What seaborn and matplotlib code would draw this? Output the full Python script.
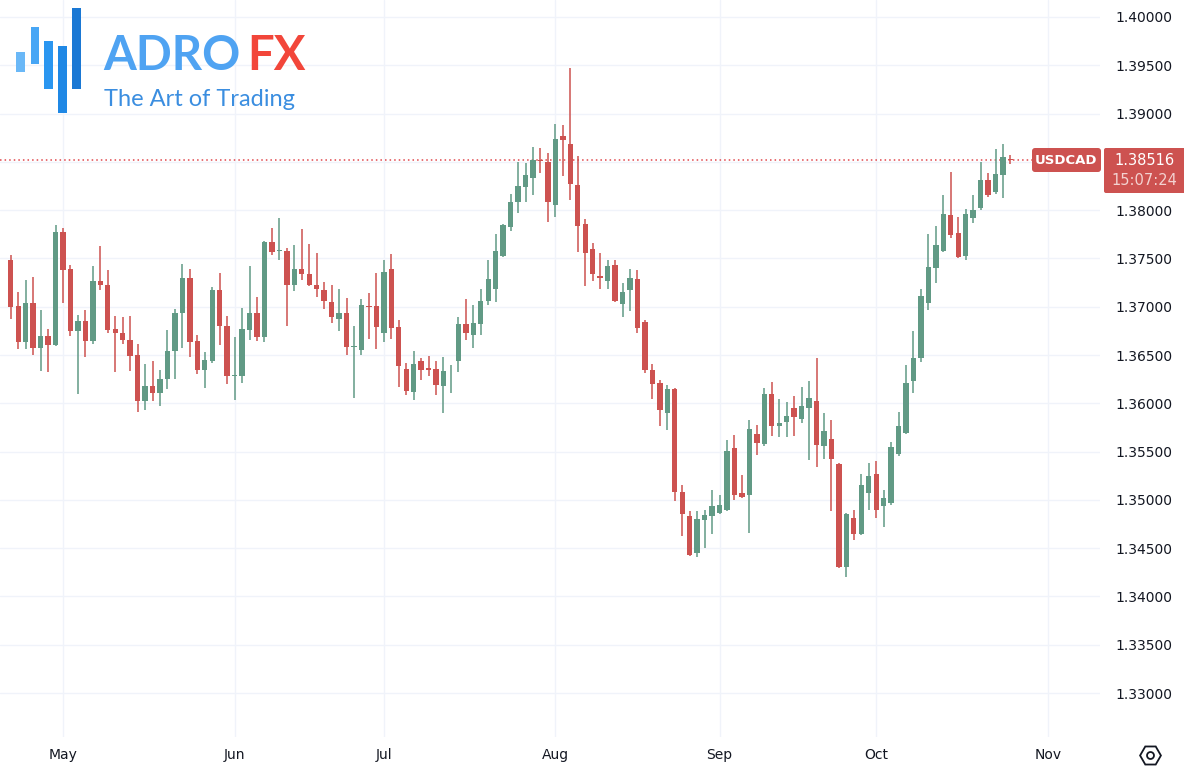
import numpy as np
import pandas as pd
import matplotlib
matplotlib.use("Agg")
import matplotlib.pyplot as plt
import seaborn as sns
from matplotlib.patches import FancyBboxPatch, Rectangle

# ---------------- data (USDCAD daily) ----------------
dates = pd.bdate_range("2024-04-22", "2024-10-25")

opens = [1.3748, 1.3701, 1.3663, 1.3704, 1.3657, 1.3670, 1.3660, 1.3777, 1.3739, 1.3675,
         1.3685, 1.3665, 1.3727, 1.3723, 1.3677, 1.3673, 1.3666, 1.3650, 1.3602, 1.3618,
         1.3611, 1.3625, 1.3654, 1.3694, 1.3730, 1.3665, 1.3634, 1.3644, 1.3717, 1.3680,
         1.3628, 1.3628, 1.3676, 1.3694, 1.3669, 1.3767, 1.3758, 1.3758, 1.3723, 1.3739,
         1.3734, 1.3723, 1.3717, 1.3705, 1.3687, 1.3693, 1.3658, 1.3655, 1.3701, 1.3701,
         1.3673, 1.3739, 1.3679, 1.3636, 1.3612, 1.3644, 1.3637, 1.3636, 1.3618, 1.3634,
         1.3644, 1.3682, 1.3671, 1.3682, 1.3706, 1.3718, 1.3753, 1.3783, 1.3808, 1.3824,
         1.3833, 1.3852, 1.3850, 1.3805, 1.3877, 1.3868, 1.3826, 1.3786, 1.3760, 1.3732,
         1.3727, 1.3743, 1.3703, 1.3717, 1.3729, 1.3684, 1.3634, 1.3621, 1.3590, 1.3615,
         1.3508, 1.3483, 1.3445, 1.3479, 1.3483, 1.3486, 1.3490, 1.3554, 1.3507, 1.3505,
         1.3568, 1.3558, 1.3610, 1.3576, 1.3581, 1.3595, 1.3584, 1.3595, 1.3602, 1.3556,
         1.3563, 1.3537, 1.3431, 1.3481, 1.3465, 1.3507, 1.3527, 1.3494, 1.3497, 1.3548,
         1.3569, 1.3623, 1.3647, 1.3704, 1.3740, 1.3758, 1.3795, 1.3776, 1.3753, 1.3792,
         1.3802, 1.3831, 1.3819, 1.3836, 1.3853]
highs = [1.3754, 1.3715, 1.3728, 1.3731, 1.3697, 1.3677, 1.3785, 1.3782, 1.3743, 1.3691,
         1.3697, 1.3742, 1.3763, 1.3738, 1.3690, 1.3689, 1.3690, 1.3661, 1.3641, 1.3644,
         1.3635, 1.3676, 1.3698, 1.3744, 1.3739, 1.3671, 1.3653, 1.3720, 1.3735, 1.3690,
         1.3669, 1.3699, 1.3742, 1.3710, 1.3768, 1.3782, 1.3792, 1.3761, 1.3764, 1.3780,
         1.3765, 1.3756, 1.3726, 1.3722, 1.3718, 1.3709, 1.3680, 1.3708, 1.3714, 1.3735,
         1.3748, 1.3755, 1.3686, 1.3642, 1.3654, 1.3647, 1.3649, 1.3644, 1.3648, 1.3640,
         1.3689, 1.3708, 1.3702, 1.3718, 1.3748, 1.3775, 1.3786, 1.3817, 1.3850, 1.3849,
         1.3865, 1.3864, 1.3859, 1.3889, 1.3888, 1.3947, 1.3856, 1.3791, 1.3766, 1.3756,
         1.3748, 1.3748, 1.3725, 1.3739, 1.3738, 1.3686, 1.3641, 1.3624, 1.3619, 1.3616,
         1.3515, 1.3489, 1.3489, 1.3490, 1.3510, 1.3505, 1.3562, 1.3567, 1.3526, 1.3583,
         1.3578, 1.3616, 1.3622, 1.3604, 1.3601, 1.3608, 1.3617, 1.3623, 1.3647, 1.3590,
         1.3583, 1.3538, 1.3486, 1.3490, 1.3527, 1.3538, 1.3540, 1.3510, 1.3560, 1.3591,
         1.3640, 1.3675, 1.3718, 1.3775, 1.3784, 1.3816, 1.3839, 1.3793, 1.3801, 1.3816,
         1.3850, 1.3838, 1.3863, 1.3869, 1.3857]
lows = [1.3687, 1.3656, 1.3656, 1.3650, 1.3633, 1.3632, 1.3659, 1.3704, 1.3670, 1.3610,
        1.3648, 1.3661, 1.3717, 1.3673, 1.3632, 1.3661, 1.3633, 1.3591, 1.3593, 1.3602,
        1.3597, 1.3615, 1.3625, 1.3657, 1.3648, 1.3630, 1.3616, 1.3642, 1.3660, 1.3620,
        1.3603, 1.3621, 1.3666, 1.3665, 1.3663, 1.3754, 1.3748, 1.3680, 1.3716, 1.3728,
        1.3721, 1.3710, 1.3698, 1.3683, 1.3675, 1.3650, 1.3605, 1.3650, 1.3667, 1.3656,
        1.3663, 1.3667, 1.3617, 1.3609, 1.3603, 1.3624, 1.3628, 1.3609, 1.3590, 1.3611,
        1.3632, 1.3666, 1.3657, 1.3671, 1.3702, 1.3705, 1.3752, 1.3778, 1.3797, 1.3808,
        1.3816, 1.3838, 1.3788, 1.3793, 1.3835, 1.3810, 1.3757, 1.3721, 1.3727, 1.3718,
        1.3718, 1.3705, 1.3689, 1.3696, 1.3673, 1.3631, 1.3604, 1.3576, 1.3572, 1.3499,
        1.3463, 1.3442, 1.3441, 1.3450, 1.3465, 1.3485, 1.3489, 1.3500, 1.3502, 1.3466,
        1.3546, 1.3556, 1.3566, 1.3565, 1.3565, 1.3566, 1.3580, 1.3541, 1.3534, 1.3542,
        1.3488, 1.3430, 1.3420, 1.3458, 1.3464, 1.3490, 1.3481, 1.3472, 1.3495, 1.3545,
        1.3568, 1.3611, 1.3643, 1.3697, 1.3725, 1.3757, 1.3771, 1.3750, 1.3748, 1.3787,
        1.3800, 1.3814, 1.3817, 1.3813, 1.3848]
closes = [1.3700, 1.3663, 1.3704, 1.3657, 1.3670, 1.3660, 1.3777, 1.3738, 1.3675, 1.3685,
          1.3665, 1.3727, 1.3723, 1.3676, 1.3673, 1.3666, 1.3649, 1.3602, 1.3618, 1.3611,
          1.3625, 1.3654, 1.3694, 1.3730, 1.3664, 1.3634, 1.3645, 1.3717, 1.3680, 1.3628,
          1.3629, 1.3677, 1.3694, 1.3669, 1.3767, 1.3757, 1.3759, 1.3723, 1.3739, 1.3734,
          1.3722, 1.3718, 1.3706, 1.3689, 1.3693, 1.3658, 1.3659, 1.3702, 1.3700, 1.3679,
          1.3736, 1.3678, 1.3639, 1.3613, 1.3641, 1.3634, 1.3635, 1.3619, 1.3633, 1.3635,
          1.3682, 1.3673, 1.3683, 1.3706, 1.3729, 1.3758, 1.3785, 1.3808, 1.3825, 1.3836,
          1.3852, 1.3851, 1.3808, 1.3874, 1.3873, 1.3827, 1.3784, 1.3756, 1.3734, 1.3730,
          1.3742, 1.3706, 1.3715, 1.3730, 1.3678, 1.3634, 1.3620, 1.3593, 1.3615, 1.3508,
          1.3485, 1.3443, 1.3480, 1.3484, 1.3494, 1.3495, 1.3551, 1.3505, 1.3503, 1.3573,
          1.3559, 1.3610, 1.3576, 1.3580, 1.3587, 1.3586, 1.3597, 1.3605, 1.3557, 1.3571,
          1.3542, 1.3431, 1.3485, 1.3465, 1.3515, 1.3525, 1.3490, 1.3502, 1.3555, 1.3577,
          1.3621, 1.3647, 1.3711, 1.3741, 1.3764, 1.3796, 1.3774, 1.3751, 1.3796, 1.3800,
          1.3831, 1.3816, 1.3837, 1.3855, 1.38516]

month_labels = ["May", "Jun", "Jul", "Aug", "Sep", "Oct", "Nov"]
month_starts = ["2024-05-01", "2024-06-03", "2024-07-01", "2024-08-01",
                "2024-09-02", "2024-10-01", "2024-11-01"]
price_ticks = [1.33, 1.335, 1.34, 1.345, 1.35, 1.355, 1.36, 1.365, 1.37,
               1.375, 1.38, 1.385, 1.39, 1.395, 1.40]
symbol = "USDCAD"
last_price = closes[-1]
countdown = "15:07:24"

# ---------------- style ----------------
sns.set_theme(style="white")
plt.rcParams["font.family"] = ["DejaVu Sans"]
UP = "#619a85"
DOWN = "#cd5250"
TXT = "#131722"
GRID = "#f0f3fa"

df = pd.DataFrame({"date": dates, "open": opens, "high": highs,
                   "low": lows, "close": closes})
df["pos"] = np.arange(len(df))
df["up"] = df["close"] >= df["open"]

W, H = 1184, 774
fig = plt.figure(figsize=(W / 100, H / 100), dpi=100)
fig.patch.set_facecolor("white")
ax = fig.add_axes([0, 37 / H, 1100 / W, 737 / H])
ax.set_facecolor("white")

# month tick positions via business-day counting
tick_pos = [len(pd.bdate_range(dates[0], m)) - 1 for m in month_starts]

ax.set_xlim(-1.448, 146.0)
ax.set_ylim(1.32545, 1.40176)

for spine in ax.spines.values():
    spine.set_visible(False)

ax.set_xticks(tick_pos)
ax.set_xticklabels(month_labels)
ax.set_yticks(price_ticks)
# the tick label hidden behind the last-price tag is left blank
ax.set_yticklabels(["" if abs(p - 1.385) < 1e-9 else f"{p:.5f}" for p in price_ticks])
ax.yaxis.tick_right()
ax.tick_params(axis="y", length=0, pad=11, labelsize=10, labelcolor=TXT)
ax.tick_params(axis="x", length=0, pad=8, labelsize=10, labelcolor=TXT)
ax.grid(True, color=GRID, linewidth=1)
ax.set_axisbelow(True)

# candles
colors = np.where(df["up"], UP, DOWN)
ax.vlines(df["pos"], df["low"], df["high"], colors=colors, linewidth=1.1, zorder=2)
body_lo = np.minimum(df["open"], df["close"])
body_h = np.maximum(np.abs(df["close"] - df["open"]), 0.00009)
ax.bar(df["pos"], body_h, bottom=body_lo, width=0.72, color=colors,
       linewidth=0, zorder=3)

# dotted last-price line
ax.axhline(last_price, xmin=0, xmax=1032 / 1100, color="#e0474c",
           linestyle=(0, (1, 2)), linewidth=1.1, zorder=1)

# ---------------- overlay (logo, price labels, icon) ----------------
ov = fig.add_axes([0, 0, 1, 1])
ov.set_xlim(0, W)
ov.set_ylim(H, 0)
ov.axis("off")
ov.patch.set_alpha(0)

bars = [(16, 51.7, 9, 20, "#6ab8f7"), (30.7, 27.3, 8.6, 36.7, "#47a6f5"),
        (44, 40.7, 9.3, 48.6, "#2a96f0"), (57.7, 46, 9, 67.3, "#1f88e5"),
        (71.7, 8.3, 9.3, 81, "#1a78d4")]
for x, y, w, h, c in bars:
    ov.add_patch(Rectangle((x, y), w, h, color=c, linewidth=0))
ov.text(103, 70, "ADRO", fontsize=34, fontweight="bold", color="#4fa3f2",
        family=["Lato", "DejaVu Sans"], va="baseline", ha="left")
ov.text(247, 70, "FX", fontsize=34, fontweight="bold", color="#f2463a",
        family=["Lato", "DejaVu Sans"], va="baseline", ha="left")
ov.text(104, 106, "The Art of Trading", fontsize=17, fontweight="normal",
        color="#3b8ee0", family=["Lato", "DejaVu Sans"], va="baseline", ha="left")

ov.add_patch(FancyBboxPatch((1032, 148), 69, 24,
                            boxstyle="round,pad=0,rounding_size=3",
                            facecolor=DOWN, edgecolor="none"))
ov.text(1066.5, 160.5, symbol, color="white", fontsize=9.5, fontweight="bold",
        ha="center", va="center")
ov.add_patch(FancyBboxPatch((1104, 148), 82, 45,
                            boxstyle="round,pad=0,rounding_size=2",
                            facecolor=DOWN, edgecolor="none"))
ov.text(1144, 160.5, f"{last_price:.5f}", color="white", fontsize=10.5,
        ha="center", va="center")
ov.text(1144, 180.5, countdown, color="#f3d2d1", fontsize=10.5,
        ha="center", va="center")

ov.plot([1150], [755], marker="H", ms=15, mfc="none", mec=TXT, mew=1.3)
ov.plot([1150], [755], marker="o", ms=5, mfc="none", mec=TXT, mew=1.3)

fig.savefig("out.png", dpi=100, facecolor="white")
